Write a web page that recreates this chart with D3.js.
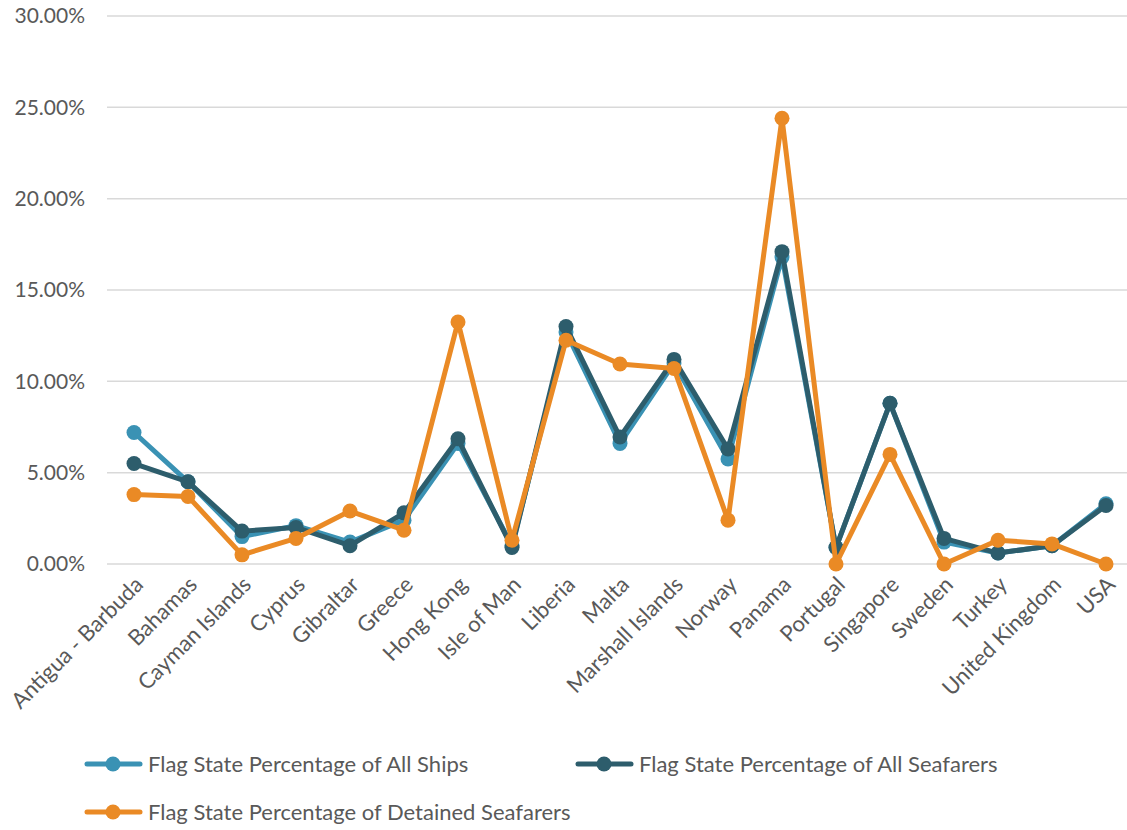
<!DOCTYPE html>
<html><head><meta charset="utf-8">
<script src="https://cdn.jsdelivr.net/npm/d3@7"></script>
<style>body{margin:0;background:#fff;} svg{display:block;font-family:Lato,"Open Sans",sans-serif;}</style>
</head><body>
<svg id="chart" width="1127" height="830"></svg>
<script>
const categories = ["Antigua - Barbuda","Bahamas","Cayman Islands","Cyprus","Gibraltar","Greece","Hong Kong","Isle of Man","Liberia","Malta","Marshall Islands","Norway","Panama","Portugal","Singapore","Sweden","Turkey","United Kingdom","USA"];
const allShips = [7.2,4.5,1.5,2.1,1.2,2.4,6.6,1.0,12.7,6.6,11.0,5.75,16.8,0.9,8.8,1.2,0.6,1.0,3.3];
const allSeafarers = [5.5,4.5,1.8,2.0,1.0,2.8,6.85,0.9,13.0,6.95,11.2,6.3,17.1,0.9,8.8,1.4,0.6,1.0,3.2];
const detained = [3.8,3.7,0.5,1.4,2.9,1.85,13.25,1.3,12.25,10.95,10.7,2.4,24.4,0.0,6.0,0.0,1.3,1.1,0.0];
const yTicks = [0,5,10,15,20,25,30];
const seriesNames = ["Flag State Percentage of All Ships","Flag State Percentage of All Seafarers","Flag State Percentage of Detained Seafarers"];
const colors = ["#3a92b4","#2d5d6c","#ea8a25"];

(function(){
const svg = d3.select("#chart");
const pLeft = 107, pRight = 1133, pTop = 16, pBottom = 564;
const x = d3.scalePoint().domain(categories).range([pLeft, pRight]).padding(0.5);
const y = d3.scaleLinear().domain([0,30]).range([pBottom, pTop]);

// grid
svg.append("g").selectAll("line").data(yTicks).join("line")
  .attr("x1", pLeft).attr("x2", 1127)
  .attr("y1", d=>y(d)).attr("y2", d=>y(d))
  .attr("stroke", "#d9d9d9").attr("stroke-width", 1.5);

// y axis
const yAxis = svg.append("g").attr("transform", `translate(${pLeft},0)`)
  .call(d3.axisLeft(y).tickValues(yTicks).tickSize(0).tickPadding(22).tickFormat(d=>d.toFixed(2)+"%"));
yAxis.select(".domain").remove();
yAxis.selectAll("text").attr("font-size", 21).attr("fill", "#595959").attr("font-family","Lato,sans-serif");

// x axis
const xAxis = svg.append("g").attr("transform", `translate(0,${pBottom})`)
  .call(d3.axisBottom(x).tickSize(0).tickPadding(0));
xAxis.select(".domain").remove();
xAxis.selectAll("text")
  .attr("font-size", 22).attr("fill", "#595959").attr("font-family","Lato,sans-serif")
  .attr("text-anchor","end").attr("dy", null).attr("y", 0)
  .attr("transform", "translate(10,22) rotate(-45)");

const data = [allShips, allSeafarers, detained];
const line = d3.line().x((d,i)=>x(categories[i])).y(d=>y(d));
data.forEach((vals, k) => {
  const g = svg.append("g");
  g.append("path").datum(vals).attr("d", line).attr("fill","none")
    .attr("stroke", colors[k]).attr("stroke-width", 5).attr("stroke-linejoin","round");
  g.selectAll("circle").data(vals).join("circle")
    .attr("cx", (d,i)=>x(categories[i])).attr("cy", d=>y(d)).attr("r", 7.5)
    .attr("fill", colors[k]);
});

// legend
const legendPos = [[87,764],[578,764],[87,812]];
seriesNames.forEach((name,k)=>{
  const [lx, ly] = legendPos[k];
  const g = svg.append("g").attr("transform", `translate(${lx},${ly})`);
  g.append("line").attr("x1",0).attr("x2",53).attr("y1",0).attr("y2",0)
    .attr("stroke", colors[k]).attr("stroke-width",5).attr("stroke-linecap","round");
  g.append("circle").attr("cx",26).attr("cy",0).attr("r",7.5).attr("fill",colors[k]);
  g.append("text").attr("x",61).attr("y",8).attr("font-size",22).attr("fill","#595959")
    .attr("font-family","Lato,sans-serif").text(name);
});
})();
</script>
</body></html>
